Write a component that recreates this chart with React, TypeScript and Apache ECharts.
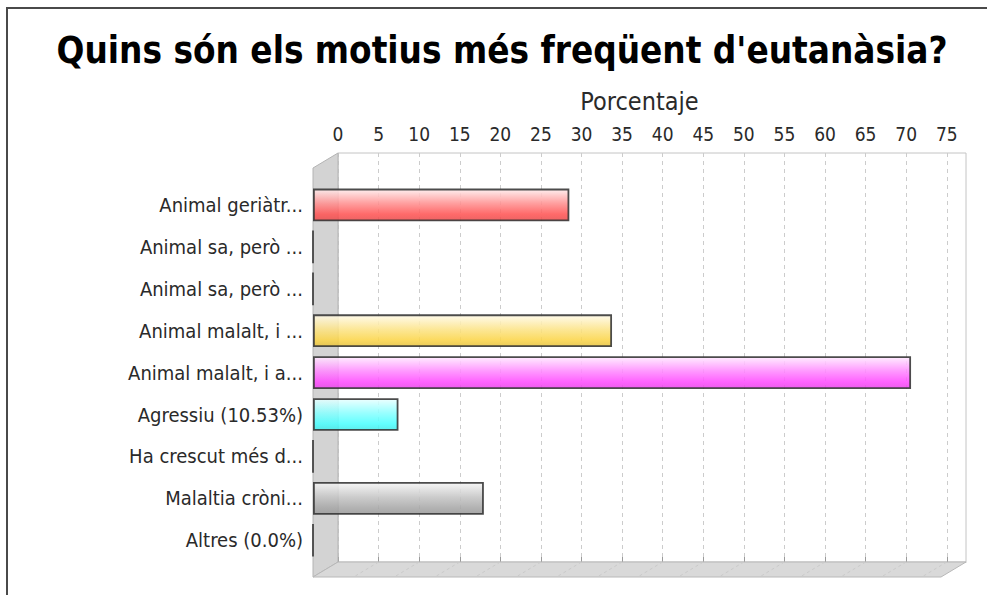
import React, { useEffect, useRef } from 'react';
import * as echarts from 'echarts';

const titleText = "Quins són els motius més freqüent d'eutanàsia?";
const axisName = 'Porcentaje';
const categories = [
  'Animal geriàtr...',
  'Animal sa, però ...',
  'Animal sa, però ...',
  'Animal malalt, i ...',
  'Animal malalt, i a...',
  'Agressiu (10.53%)',
  'Ha crescut més d...',
  'Malaltia cròni...',
  'Altres (0.0%)',
];
const values = [31.58, 0, 0, 36.84, 73.68, 10.53, 0, 21.05, 0];
const barColors = ['#ff5555', '#5555ff', '#55ff55', '#fbd54a', '#ff4dff', '#4dffff', '#ffafaf', '#a8a8a8', '#c0c0c0'];
const tickValues = [0, 5, 10, 15, 20, 25, 30, 35, 40, 45, 50, 55, 60, 65, 70, 75];
const axisMax = 77.37;

const FONT = "'DejaVu Sans Condensed', 'DejaVu Sans', sans-serif";

// layout (back plane + 3D offset)
const BACK_L = 338, BACK_T = 153, PLANE_W = 628, PLANE_H = 409;
const DX = 25, DY = 15;
const CAT_T = 184, CAT_H = 377.2;

function mix(hex: string, other: string, t: number) {
  const a = parseInt(hex.slice(1), 16), b = parseInt(other.slice(1), 16);
  const c = [16, 8, 0].map((s) => Math.round(((a >> s) & 255) * (1 - t) + ((b >> s) & 255) * t));
  return 'rgb(' + c.join(',') + ')';
}

function barGradient(col: string) {
  return new echarts.graphic.LinearGradient(0, 0, 0, 1, [
    { offset: 0, color: mix(col, '#ffffff', 0.88) },
    { offset: 0.45, color: mix(col, '#ffffff', 0.35) },
    { offset: 0.8, color: col },
    { offset: 1, color: mix(col, '#000000', 0.08) },
  ]);
}

export default function App() {
  const ref = useRef<HTMLDivElement>(null);
  useEffect(() => {
    if (!ref.current) return;
    const chart = echarts.init(ref.current, null, { renderer: 'svg' });
    const pxPerUnit = PLANE_W / axisMax;
    const backB = BACK_T + PLANE_H;
    const graphics: any[] = [
      {
        type: 'polygon',
        z: 1,
        shape: { points: [[BACK_L - DX, BACK_T + DY], [BACK_L, BACK_T], [BACK_L, backB], [BACK_L - DX, backB + DY]] },
        style: { fill: '#d3d3d3', stroke: '#b4b4b4', lineWidth: 1 },
      },
      {
        type: 'polygon',
        z: 1,
        shape: { points: [[BACK_L - DX, backB + DY], [BACK_L, backB], [BACK_L + PLANE_W, backB], [BACK_L + PLANE_W - DX, backB + DY]] },
        style: { fill: '#d9d9d9', stroke: '#b8b8b8', lineWidth: 1 },
      },
    ];
    tickValues.forEach((v) => {
      if (v === 0) return;
      const x = BACK_L + v * pxPerUnit;
      graphics.push({
        type: 'line',
        z: 1,
        shape: { x1: x, y1: backB, x2: x - DX, y2: backB + DY },
        style: { stroke: '#cacaca', lineWidth: 1, lineDash: [3, 3] },
      });
    });
    graphics.push({
      type: 'rect',
      z: 10,
      shape: { x: 7, y: 8, width: 1000, height: 620 },
      style: { fill: 'none', stroke: '#4a4a4a', lineWidth: 2 },
    });

    chart.setOption({
      animation: false,
      backgroundColor: '#ffffff',
      title: {
        text: titleText,
        left: 502,
        top: 32,
        textAlign: 'center',
        padding: 0,
        textStyle: { fontFamily: FONT, fontSize: 36.5, fontWeight: 'bold', color: '#000000' },
      },
      grid: [
        {
          left: BACK_L, top: BACK_T, width: PLANE_W, height: PLANE_H,
          show: true, backgroundColor: '#ffffff', borderColor: '#c4c4c4', borderWidth: 1,
        },
        { left: BACK_L - DX, top: CAT_T, width: PLANE_W, height: CAT_H },
      ],
      xAxis: [
        {
          gridIndex: 0,
          type: 'value',
          position: 'top',
          min: 0,
          max: axisMax,
          interval: 5,
          name: axisName,
          nameLocation: 'middle',
          nameGap: 39,
          nameTextStyle: { fontFamily: FONT, fontSize: 25, color: '#2a2a2a', padding: [0, 25, 0, 0] },
          axisLine: { show: true, lineStyle: { color: '#c4c4c4', width: 1 } },
          axisTick: { show: true, length: 5, customValues: tickValues, lineStyle: { color: '#9a9a9a' } },
          axisLabel: { customValues: tickValues, fontFamily: FONT, fontSize: 19, color: '#2a2a2a', margin: 10 },
          splitLine: { show: true, lineStyle: { color: '#cccccc', type: [4, 4], width: 1 } },
        },
        { gridIndex: 1, type: 'value', min: 0, max: axisMax, show: false },
      ],
      yAxis: [
        { gridIndex: 0, type: 'value', show: false },
        {
          gridIndex: 1,
          type: 'category',
          data: categories,
          inverse: true,
          axisLine: { show: false },
          axisTick: { show: false },
          splitLine: { show: false },
          axisLabel: { fontFamily: FONT, fontSize: 20, color: '#2a2a2a', margin: 10 },
        },
      ],
      series: [
        {
          type: 'bar',
          xAxisIndex: 1,
          yAxisIndex: 1,
          z: 5,
          barWidth: 32.7,
          data: values.map((v, i) => ({
            value: v,
            itemStyle: {
              color: barGradient(barColors[i]),
              borderColor: '#333333',
              borderWidth: 1.8,
              opacity: 0.88,
            },
          })),
        },
      ],
      graphic: { elements: graphics },
    });
    return () => chart.dispose();
  }, []);
  return <div ref={ref} style={{ position: 'fixed', left: 0, top: 0, width: 987, height: 595 }} />;
}
